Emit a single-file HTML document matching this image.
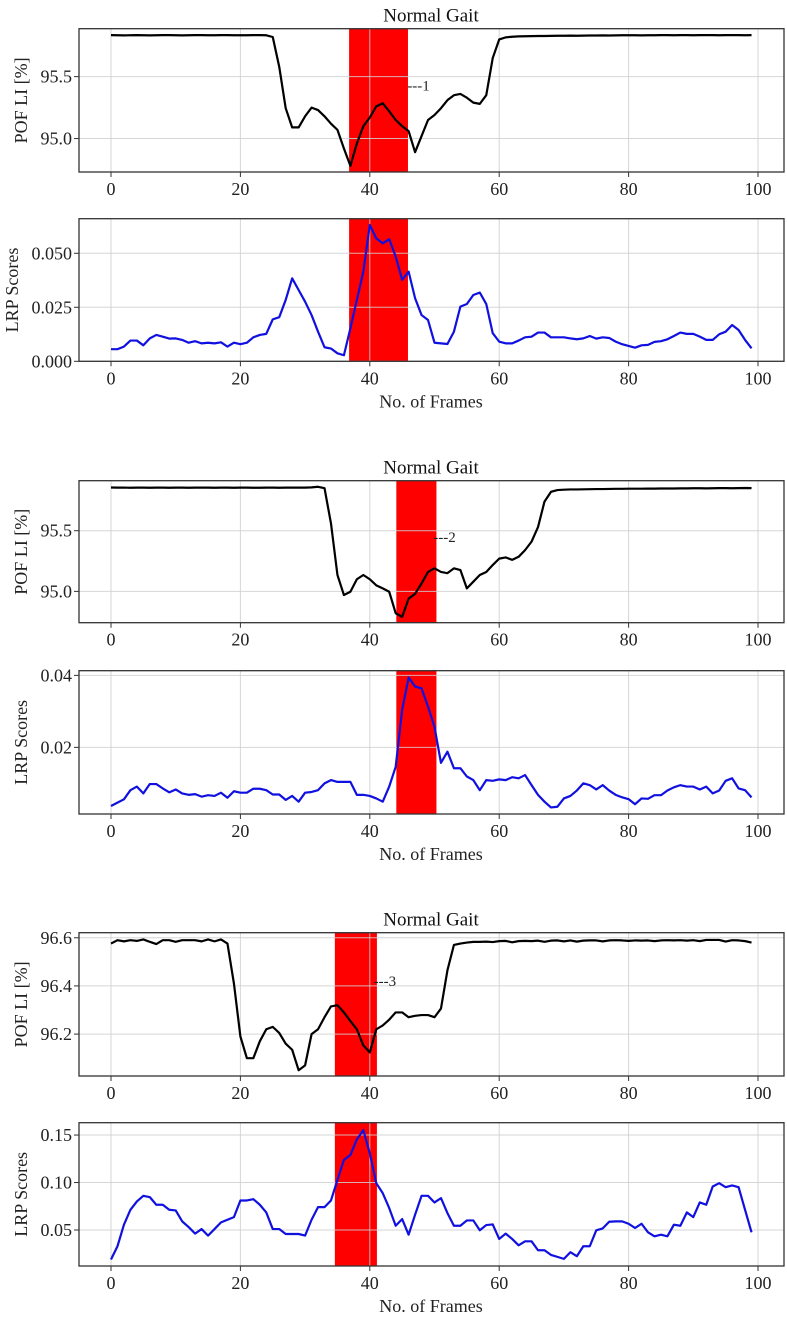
<!DOCTYPE html>
<html><head><meta charset="utf-8">
<style>
html,body{margin:0;padding:0;background:#fff;}
svg{display:block;font-family:"Liberation Serif","DejaVu Serif",serif;}
</style></head>
<body>
<svg id="fig" width="787" height="1317" viewBox="0 0 787 1317" xmlns="http://www.w3.org/2000/svg"></svg>
<script>
const frames = Array.from({length:100},(_,i)=>i);
const xTicks = [0,20,40,60,80,100];

const pof1 = [95.835,95.834,95.833,95.834,95.835,95.834,95.833,95.834,95.835,95.835,95.834,95.833,95.834,95.835,95.835,95.834,95.834,95.835,95.835,95.834,95.834,95.834,95.835,95.835,95.834,95.82,95.58,95.245,95.09,95.09,95.18,95.25,95.23,95.18,95.12,95.07,94.92,94.78,94.96,95.10,95.17,95.26,95.285,95.22,95.15,95.10,95.06,94.89,95.02,95.15,95.19,95.245,95.31,95.35,95.36,95.33,95.29,95.28,95.35,95.65,95.80,95.817,95.822,95.825,95.826,95.827,95.828,95.828,95.829,95.83,95.83,95.831,95.83,95.831,95.832,95.832,95.833,95.832,95.833,95.834,95.834,95.834,95.833,95.834,95.834,95.835,95.835,95.834,95.835,95.835,95.834,95.835,95.835,95.835,95.834,95.835,95.835,95.835,95.834,95.835];
const lrp1 = [.0056,.0056,.0068,.0096,.0096,.0074,.0106,.0122,.0114,.0105,.0106,.0099,.0086,.0093,.0083,.0086,.0083,.0088,.0068,.0086,.0079,.0086,.0111,.0122,.0127,.0194,.0204,.0284,.0384,.0330,.0276,.0214,.0137,.0065,.0059,.0037,.0028,.0153,.0284,.0415,.0631,.0569,.0546,.0565,.0485,.0377,.0415,.0292,.0214,.0191,.0086,.0083,.0080,.0137,.0253,.0265,.0307,.0318,.0265,.0130,.0091,.0083,.0083,.0096,.0111,.0114,.0133,.0133,.0111,.0111,.0111,.0106,.0102,.0106,.0117,.0105,.0111,.0108,.0091,.0079,.0071,.0063,.0074,.0076,.0090,.0093,.0102,.0117,.0133,.0127,.0127,.0114,.0099,.0099,.0125,.0137,.0168,.0145,.0099,.0060];
const pof2 = [95.856,95.855,95.855,95.854,95.855,95.855,95.854,95.855,95.855,95.854,95.855,95.855,95.854,95.855,95.855,95.855,95.854,95.855,95.855,95.854,95.855,95.855,95.854,95.854,95.855,95.855,95.854,95.855,95.855,95.855,95.855,95.857,95.862,95.85,95.56,95.135,94.97,94.997,95.10,95.135,95.10,95.05,95.025,94.997,94.82,94.79,94.94,94.98,95.066,95.16,95.19,95.16,95.15,95.19,95.176,95.025,95.08,95.135,95.16,95.217,95.27,95.28,95.26,95.285,95.34,95.41,95.53,95.74,95.82,95.835,95.838,95.84,95.84,95.841,95.842,95.843,95.843,95.844,95.845,95.845,95.846,95.846,95.846,95.847,95.847,95.848,95.848,95.848,95.849,95.849,95.85,95.85,95.849,95.85,95.851,95.851,95.85,95.851,95.852,95.851];
const lrp2 = [.0037,.00463,.00556,.0081,.0091,.0072,.0098,.0098,.0086,.0075,.0083,.0072,.0068,.0070,.0063,.0067,.0065,.0074,.0060,.0078,.0074,.0074,.0085,.0085,.0081,.0069,.0069,.0054,.0065,.0049,.0074,.0076,.0081,.0100,.0109,.0104,.0104,.0104,.0068,.0068,.0065,.0058,.0049,.0091,.0146,.0304,.0394,.0369,.0364,.0313,.0257,.0157,.0188,.0142,.0142,.0119,.0109,.0081,.0109,.0107,.0111,.0109,.0117,.0114,.0123,.0095,.0068,.0049,.0033,.0035,.0058,.0065,.0080,.0100,.0095,.0083,.0095,.0080,.0068,.0061,.0056,.0042,.0058,.0057,.0067,.0067,.0080,.0089,.0095,.0091,.0091,.0083,.0091,.0072,.0080,.0107,.0114,.0086,.0081,.0061];
const pof3 = [96.576,96.59,96.585,96.59,96.587,96.593,96.583,96.574,96.59,96.59,96.583,96.59,96.59,96.59,96.585,96.593,96.585,96.593,96.576,96.41,96.19,96.10,96.10,96.17,96.22,96.23,96.205,96.16,96.135,96.05,96.07,96.20,96.22,96.27,96.315,96.32,96.29,96.254,96.22,96.153,96.124,96.22,96.236,96.26,96.29,96.29,96.27,96.276,96.279,96.279,96.27,96.306,96.465,96.57,96.576,96.58,96.583,96.583,96.584,96.582,96.586,96.587,96.581,96.586,96.587,96.586,96.588,96.583,96.588,96.589,96.585,96.589,96.584,96.588,96.589,96.589,96.585,96.589,96.59,96.589,96.587,96.589,96.588,96.589,96.586,96.589,96.59,96.589,96.59,96.588,96.59,96.586,96.591,96.591,96.591,96.584,96.59,96.589,96.586,96.58];
const lrp3 = [.0189,.0329,.0556,.0713,.0801,.0860,.0846,.0766,.0766,.0713,.0706,.0591,.0531,.0462,.0510,.0441,.0510,.0580,.0608,.0636,.0811,.0811,.0825,.0766,.0685,.0510,.0510,.0458,.0458,.0458,.0441,.0608,.0741,.0741,.0811,.1028,.1238,.1290,.1455,.1552,.1308,.0993,.0888,.0731,.0545,.0615,.0451,.0661,.0860,.0860,.0790,.0836,.0678,.0545,.0545,.0601,.0601,.0497,.0552,.0559,.0406,.0462,.0406,.0339,.0381,.0381,.0287,.0287,.0238,.0217,.0196,.0266,.0224,.0329,.0329,.0497,.0517,.0587,.0591,.0591,.0566,.0521,.0566,.0476,.0434,.0451,.0434,.0556,.0545,.0685,.0636,.0790,.0766,.0958,.0993,.0951,.0969,.0951,.0713,.0476];

const pofTicks1 = [95.0,95.5], pofTickLabels1 = ["95.0","95.5"];
const lrpTicks1 = [0,0.025,0.05], lrpTickLabels1 = ["0.000","0.025","0.050"];
const pofTicks2 = [95.0,95.5], pofTickLabels2 = ["95.0","95.5"];
const lrpTicks2 = [0.02,0.04], lrpTickLabels2 = ["0.02","0.04"];
const pofTicks3 = [96.2,96.4,96.6], pofTickLabels3 = ["96.2","96.4","96.6"];
const lrpTicks3 = [0.05,0.10,0.15], lrpTickLabels3 = ["0.05","0.10","0.15"];
const spans = [[36.8,45.9],[44.1,50.3],[34.6,41.1]];
const labels = ["---1","---2","---3"];

const NS = "http://www.w3.org/2000/svg";
const svg = document.getElementById('fig');
const L = 79, R = 784, X0 = 111, XS = 6.47;
const xs = v => X0 + v*XS;
function mk(tag, attrs, parent){ const e=document.createElementNS(NS,tag); for(const k in attrs) e.setAttribute(k,attrs[k]); (parent||svg).appendChild(e); return e; }

function panel(o){
  const g = mk('g',{});
  
  
  const ys = v => o.bot - (v - o.ymin)/(o.ymax - o.ymin)*(o.bot - o.top);
  // span
  const sp = mk('rect',{x:xs(o.span[0]),y:o.top,width:xs(o.span[1])-xs(o.span[0]),height:o.bot-o.top,fill:'#ff0000'},g);
  
  
  // grid
  xTicks.forEach(t=>{ const l=mk('line',{x1:xs(t),x2:xs(t),y1:o.top,y2:o.bot,stroke:'#cfcfcf','stroke-opacity':0.85,'stroke-width':1},g);
      });
  o.yticks.forEach(t=>{ const l=mk('line',{x1:L,x2:R,y1:ys(t),y2:ys(t),stroke:'#cfcfcf','stroke-opacity':0.85,'stroke-width':1},g);
      });
  // line
  const d = o.data.map((v,i)=>(i?'L':'M')+xs(frames[i]).toFixed(2)+','+ys(v).toFixed(2)).join('');
  const p = mk('path',{d:d,fill:'none',stroke:o.color,'stroke-width':2.2,'stroke-linejoin':'round'},g);
  
  
  // frame
  const fr = mk('rect',{x:L,y:o.top,width:R-L,height:o.bot-o.top,fill:'none',stroke:'#333','stroke-width':1.3},g);
  
  
  // x ticks
  xTicks.forEach(t=>{
    mk('line',{x1:xs(t),x2:xs(t),y1:o.bot,y2:o.bot+5,stroke:'#333','stroke-width':1},g);
    const tx = mk('text',{x:xs(t),y:o.bot+23,'text-anchor':'middle','font-size':18,fill:'#222'},g);
    tx.textContent = t;
    
    
  });
  o.yticks.forEach((t,i)=>{
    mk('line',{x1:L-5,x2:L,y1:ys(t),y2:ys(t),stroke:'#333','stroke-width':1},g);
    const tx = mk('text',{x:L-7,y:ys(t)+6,'text-anchor':'end','font-size':18,fill:'#222'},g);
    tx.textContent = o.ylabels[i];
    
    
  });
  const yl = mk('text',{x:0,y:0,'text-anchor':'middle','font-size':18,fill:'#222',transform:`translate(${o.ylx},${(o.top+o.bot)/2}) rotate(-90)`},g);
  yl.textContent = o.ytitle;
  
  
  if(o.title){
    const t = mk('text',{x:431,y:o.top-7,'text-anchor':'middle','font-size':19,fill:'#111'},g);
    t.textContent = o.title;
    
    
  }
  if(o.xtitle){
    const t = mk('text',{x:431,y:o.bot+46,'text-anchor':'middle','font-size':18,fill:'#222'},g);
    t.textContent = o.xtitle;
    
    
  }
  if(o.ann){
    const t = mk('text',{x:xs(o.ann[0]),y:ys(o.ann[1])+5,'font-size':15,fill:'#222'},g);
    t.textContent = o.ann[2];
    
    
  }
}

panel({name:'pof-panel-1',top:28.7,bot:172,ymin:94.73,ymax:95.887,yticks:pofTicks1,ylabels:pofTickLabels1,data:pof1,color:'#000',lineName:'pof-line-1',span:spans[0],ytitle:'POF LI [%]',ylx:27,title:'Normal Gait',ann:[45.8,95.43,labels[0]]});
panel({name:'lrp-panel-1',top:218.7,bot:361.3,ymin:0,ymax:0.066,yticks:lrpTicks1,ylabels:lrpTickLabels1,data:lrp1,color:'#1010e0',lineName:'lrp-line-1',span:spans[0],ytitle:'LRP Scores',ylx:18,xtitle:'No. of Frames'});
panel({name:'pof-panel-2',top:480.7,bot:622.7,ymin:94.742,ymax:95.912,yticks:pofTicks2,ylabels:pofTickLabels2,data:pof2,color:'#000',lineName:'pof-line-2',span:spans[1],ytitle:'POF LI [%]',ylx:27,title:'Normal Gait',ann:[49.8,95.45,labels[1]]});
panel({name:'lrp-panel-2',top:670.7,bot:814,ymin:0.00148,ymax:0.0413,yticks:lrpTicks2,ylabels:lrpTickLabels2,data:lrp2,color:'#1010e0',lineName:'lrp-line-2',span:spans[1],ytitle:'LRP Scores',ylx:27,xtitle:'No. of Frames'});
panel({name:'pof-panel-3',top:932.7,bot:1076,ymin:96.026,ymax:96.621,yticks:pofTicks3,ylabels:pofTickLabels3,data:pof3,color:'#000',lineName:'pof-line-3',span:spans[2],ytitle:'POF LI [%]',ylx:27,title:'Normal Gait',ann:[40.6,96.42,labels[2]]});
panel({name:'lrp-panel-3',top:1122.7,bot:1266,ymin:0.0121,ymax:0.163,yticks:lrpTicks3,ylabels:lrpTickLabels3,data:lrp3,color:'#1010e0',lineName:'lrp-line-3',span:spans[2],ytitle:'LRP Scores',ylx:27,xtitle:'No. of Frames'});
</script>
</body></html>
